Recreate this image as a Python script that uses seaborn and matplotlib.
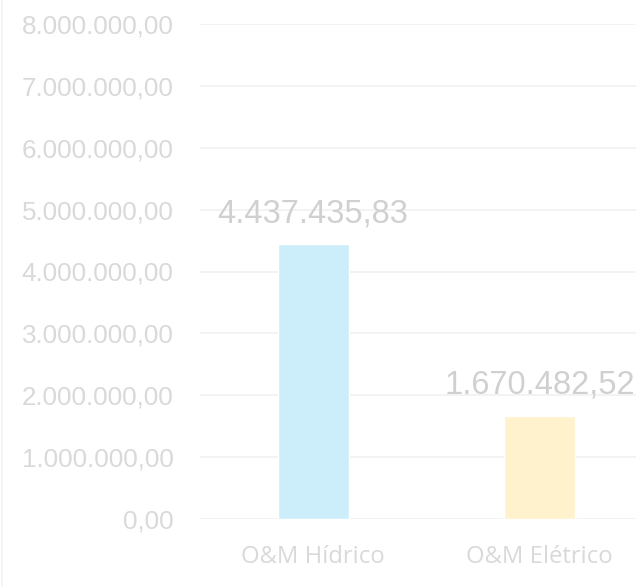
import seaborn as sns
from matplotlib import pyplot as plt
from matplotlib.lines import Line2D
from matplotlib.ticker import FuncFormatter

categories = ["O&M Hídrico", "O&M Elétrico"]
values = [4437435.83, 1670482.52]
bar_colors = ["#CCEEFA", "#FFF2CC"]
y_ticks = [0, 1000000, 2000000, 3000000, 4000000, 5000000, 6000000, 7000000, 8000000]

TEXT = "#d9d9d9"
GRID = "#f2f2f2"


def br_fmt(v, pos=None):
    s = f"{v:,.2f}"
    return s.replace(",", "X").replace(".", ",").replace("X", ".")


sns.set_style("white")
plt.rcParams['font.family'] = ['Liberation Sans', 'DejaVu Sans']

fig = plt.figure(figsize=(6.36, 5.86), dpi=100)
ax = fig.add_axes([200 / 636, 67 / 586, 436 / 636, 495 / 586])

sns.barplot(x=categories, y=values, hue=categories, palette=bar_colors,
            legend=False, width=0.314, ax=ax, zorder=3, saturation=1)

ax.set_xlim(-0.5, 1.427)
ax.set_ylim(0, 8000000)
ax.set_yticks(y_ticks)
ax.yaxis.set_major_formatter(FuncFormatter(br_fmt))
ax.grid(axis="y", color=GRID, linewidth=1.3, zorder=0)
ax.set_axisbelow(True)
for s in ax.spines.values():
    s.set_visible(False)

ax.tick_params(axis="y", length=0, pad=19, labelsize=18.7, labelcolor=TEXT)
ax.tick_params(axis="x", length=0, pad=19, labelcolor=TEXT)
for lbl in ax.get_xticklabels():
    lbl.set_fontfamily(["Open Sans", "DejaVu Sans"])
    lbl.set_fontsize(17.2)

for i, v in enumerate(values):
    ax.annotate(br_fmt(v), (i, v), xytext=(0, 22), textcoords="offset points",
                ha="center", va="center", fontsize=23.5, color="#d0d0d0")

ax.set_xlabel("")
ax.set_ylabel("")

fig.add_artist(Line2D([0.003, 0.003], [0, 1], color="#f2f2f2", linewidth=1.2))

plt.savefig("out.png", dpi=100)
